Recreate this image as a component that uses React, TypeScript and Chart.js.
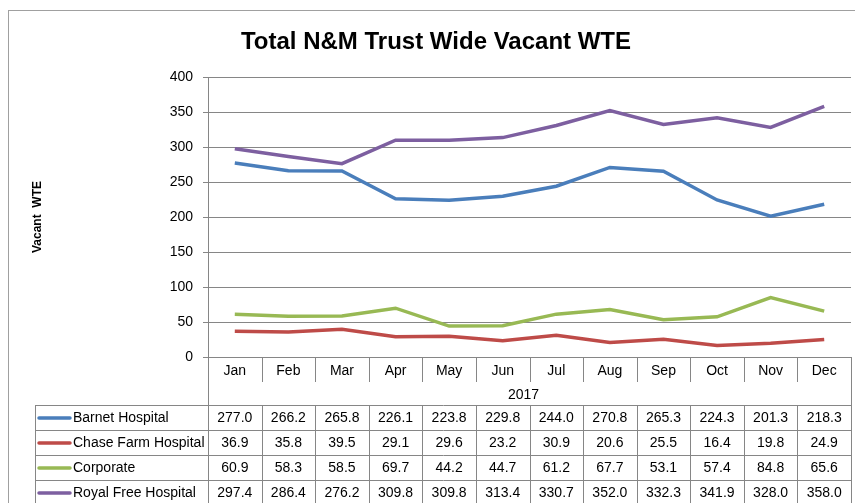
import React, { useEffect, useRef } from "react";
import { Chart, registerables } from "chart.js";

Chart.register(...registerables);

const months = ["Jan", "Feb", "Mar", "Apr", "May", "Jun", "Jul", "Aug", "Sep", "Oct", "Nov", "Dec"];
const yearLabel = "2017";
const titleText = "Total N&M Trust Wide Vacant WTE";
const yAxisTitle = "Vacant  WTE";
const yTicks = [0, 50, 100, 150, 200, 250, 300, 350, 400];

const seriesNames = ["Barnet Hospital", "Chase Farm Hospital", "Corporate", "Royal Free Hospital"];
const barnet = [277.0, 266.2, 265.8, 226.1, 223.8, 229.8, 244.0, 270.8, 265.3, 224.3, 201.3, 218.3];
const chaseFarm = [36.9, 35.8, 39.5, 29.1, 29.6, 23.2, 30.9, 20.6, 25.5, 16.4, 19.8, 24.9];
const corporate = [60.9, 58.3, 58.5, 69.7, 44.2, 44.7, 61.2, 67.7, 53.1, 57.4, 84.8, 65.6];
const royalFree = [297.4, 286.4, 276.2, 309.8, 309.8, 313.4, 330.7, 352.0, 332.3, 341.9, 328.0, 358.0];
const seriesColors = ["#4a7ebb", "#be4b48", "#98b954", "#7d5fa0"];

const FONT = '"Liberation Sans", Arial, sans-serif';
const GRID = "#868686";

const tablePlugin = {
  id: "tablePlugin",
  beforeDraw(chart: any) {
    const ctx = chart.ctx;
    ctx.save();
    ctx.fillStyle = "#ffffff";
    ctx.fillRect(0, 0, chart.width, chart.height);
    ctx.strokeStyle = "#a0a0a0";
    ctx.lineWidth = 1;
    ctx.strokeRect(8.5, 10.5, chart.width + 10, chart.height + 10);
    ctx.restore();
  },
  afterDraw(chart: any) {
    const ctx = chart.ctx;
    const xs = chart.scales.x;
    const area = chart.chartArea;
    const half = (xs.getPixelForValue(1) - xs.getPixelForValue(0)) / 2;
    const left = area.left;
    const right = area.right;
    const axisY = area.bottom;
    const monthRowBottom = axisY + 25;
    const tableTop = axisY + 48;
    const rowH = 25;
    const tableLeft = 35;
    const r = (v: number) => Math.round(v) + 0.5;

    ctx.save();
    // Title
    ctx.fillStyle = "#000";
    ctx.font = `bold 24px ${FONT}`;
    ctx.textAlign = "center";
    ctx.textBaseline = "alphabetic";
    ctx.fillText(titleText, 436, 49);

    // Y axis title
    ctx.save();
    ctx.translate(38, (area.top + area.bottom) / 2);
    ctx.rotate(-Math.PI / 2);
    ctx.font = `bold 12px ${FONT}`;
    ctx.textBaseline = "middle";
    ctx.fillText(yAxisTitle, 0, 0);
    ctx.restore();

    // Table lines
    ctx.strokeStyle = GRID;
    ctx.lineWidth = 1;
    ctx.beginPath();
    // y axis continues down
    ctx.moveTo(r(left), axisY);
    ctx.lineTo(r(left), chart.height + 5);
    // right border
    ctx.moveTo(r(right), axisY);
    ctx.lineTo(r(right), chart.height + 5);
    // left border of table
    ctx.moveTo(r(tableLeft), tableTop);
    ctx.lineTo(r(tableLeft), chart.height + 5);
    // horizontal lines
    for (let i = 0; i <= seriesNames.length; i++) {
      const y = r(tableTop + i * rowH);
      ctx.moveTo(tableLeft, y);
      ctx.lineTo(right + 1, y);
    }
    // category dividers
    for (let i = 1; i < months.length; i++) {
      const x = r(xs.getPixelForValue(i) - half);
      ctx.moveTo(x, axisY);
      ctx.lineTo(x, monthRowBottom);
      ctx.moveTo(x, tableTop);
      ctx.lineTo(x, chart.height + 5);
    }
    ctx.stroke();

    // Month labels
    ctx.fillStyle = "#000";
    ctx.font = `14px ${FONT}`;
    ctx.textAlign = "center";
    ctx.textBaseline = "middle";
    months.forEach((m, i) => {
      ctx.fillText(m, xs.getPixelForValue(i), axisY + 14);
    });
    ctx.fillText(yearLabel, (left + right) / 2 - 6, axisY + 38);

    // Data rows
    const allData = [barnet, chaseFarm, corporate, royalFree];
    allData.forEach((arr, s) => {
      const cy = tableTop + s * rowH + rowH / 2 + 0.5;
      // legend swatch
      ctx.strokeStyle = seriesColors[s];
      ctx.lineWidth = 3.5;
      ctx.lineCap = "round";
      ctx.beginPath();
      ctx.moveTo(39, cy);
      ctx.lineTo(70, cy);
      ctx.stroke();
      ctx.fillStyle = "#000";
      ctx.textAlign = "left";
      ctx.fillText(seriesNames[s], 73, cy);
      ctx.textAlign = "center";
      arr.forEach((v, i) => {
        ctx.fillText(v.toFixed(1), xs.getPixelForValue(i), cy);
      });
    });
    ctx.restore();
  },
};

export default function App() {
  const ref = useRef<HTMLCanvasElement | null>(null);
  useEffect(() => {
    if (!ref.current) return;
    Chart.defaults.font.family = FONT;
    const datasets = [barnet, chaseFarm, corporate, royalFree].map((d, i) => ({
      label: seriesNames[i],
      data: d,
      borderColor: seriesColors[i],
      backgroundColor: seriesColors[i],
      borderWidth: 3.5,
      pointRadius: 0,
      tension: 0,
      fill: false,
    }));
    const chart = new Chart(ref.current, {
      type: "line",
      data: { labels: months, datasets },
      options: {
        responsive: false,
        animation: false,
        devicePixelRatio: 1,
        layout: { padding: { left: 0, top: 77, right: 4, bottom: 146 } },
        plugins: {
          legend: { display: false },
          title: { display: false },
          tooltip: { enabled: false },
        },
        scales: {
          x: { type: "category", display: false, offset: true },
          y: {
            min: 0,
            max: 400,
            afterBuildTicks: (scale: any) => {
              scale.ticks = yTicks.map((v) => ({ value: v }));
            },
            afterFit: (scale: any) => {
              scale.width = 208;
            },
            ticks: { font: { size: 14, family: FONT }, color: "#000", padding: 10 },
            grid: { color: GRID, tickLength: 5, lineWidth: 1 },
            border: { color: GRID },
          },
        },
      },
      plugins: [tablePlugin],
    });
    return () => chart.destroy();
  }, []);
  return (
    <canvas
      ref={ref}
      width={855}
      height={503}
      style={{ position: "absolute", left: 0, top: 0, width: 855, height: 503 }}
    />
  );
}
